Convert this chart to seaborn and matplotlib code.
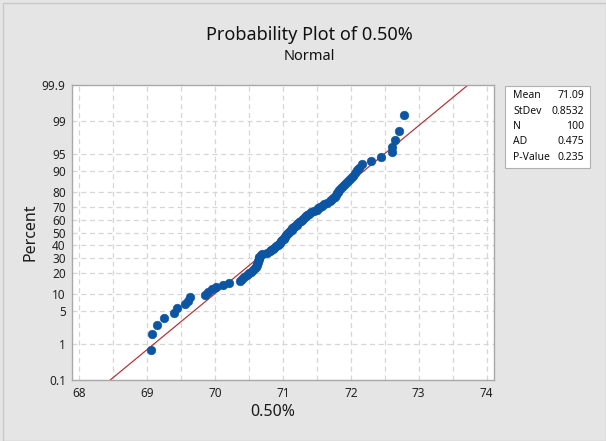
import numpy as np
import pandas as pd
import matplotlib
matplotlib.use("Agg")
import matplotlib.pyplot as plt
import seaborn as sns
from statistics import NormalDist
from matplotlib.patches import Rectangle

# ---- data ----
values = [
    69.07, 69.06, 69.14, 69.24, 69.39, 69.44, 69.55, 69.60, 69.63, 69.85,
    69.90, 69.95, 70.01, 70.12, 70.21, 70.36, 70.39, 70.43, 70.47, 70.50,
    70.53, 70.56, 70.58, 70.60, 70.61, 70.62, 70.63, 70.63, 70.64, 70.65,
    70.65, 70.67, 70.69, 70.77, 70.81, 70.82, 70.85, 70.87, 70.90, 70.92,
    70.94, 70.95, 70.97, 70.99, 71.01, 71.02, 71.03, 71.05, 71.06, 71.07,
    71.09, 71.11, 71.13, 71.14, 71.16, 71.18, 71.20, 71.21, 71.24, 71.26,
    71.28, 71.30, 71.32, 71.34, 71.36, 71.38, 71.42, 71.46, 71.50, 71.52,
    71.55, 71.58, 71.61, 71.65, 71.69, 71.71, 71.74, 71.76, 71.78, 71.80,
    71.81, 71.83, 71.86, 71.88, 71.91, 71.94, 71.97, 72.00, 72.03, 72.06,
    72.09, 72.12, 72.16, 72.30, 72.45, 72.60, 72.61, 72.65, 72.71, 72.78,
]
mean_val = 71.09
stdev_val = 0.8532
n_val = 100
ad_val = 0.475
p_val = 0.235

percent_ticks = [0.1, 1, 5, 10, 20, 30, 40, 50, 60, 70, 80, 90, 95, 99, 99.9]
percent_labels = ["0.1", "1", "5", "10", "20", "30", "40", "50", "60", "70",
                  "80", "90", "95", "99", "99.9"]
x_ticks = [68, 69, 70, 71, 72, 73, 74]

title = "Probability Plot of 0.50%"
subtitle = "Normal"
xlabel = "0.50%"
ylabel = "Percent"

# ---- probability scale ----
nd = NormalDist()
vals = np.sort(np.array(values))
n = len(vals)
ranks = np.arange(1, n + 1)
probs = (ranks - 0.3) / (n + 0.4)
zs = np.array([nd.inv_cdf(p) for p in probs])
df = pd.DataFrame({"x": vals, "z": zs})

zlim = nd.inv_cdf(0.999)

sns.set_theme(style="white")
plt.rcParams["font.family"] = ["Noto Sans", "DejaVu Sans"]

BG = "#E5E5E5"
fig = plt.figure(figsize=(6.06, 4.41), dpi=100, facecolor=BG)
fig.patches.append(Rectangle((3 / 606, 0), 1 - 3 / 606, 1 - 3 / 441,
                             transform=fig.transFigure, fill=False,
                             edgecolor="#C8C8C8", linewidth=1.0, zorder=0))

ax = fig.add_axes([72 / 606, 1 - 380 / 441, (494 - 72) / 606, (380 - 85) / 441])
ax.set_facecolor("white")

# grid
grid_kw = dict(color="#D6D6D6", linestyle=(0, (4, 3)), linewidth=0.9, zorder=0)
for gx in np.arange(68, 74.01, 0.5):
    ax.axvline(gx, **grid_kw)
for pt in percent_ticks[1:-1]:
    ax.axhline(nd.inv_cdf(pt / 100), **grid_kw)

# fit line
zline = np.array([-zlim - 0.2, zlim + 0.2])
ax.plot(mean_val + stdev_val * zline, zline, color="#B03A3A", linewidth=0.9, zorder=2)

# points
sns.scatterplot(data=df, x="x", y="z", ax=ax, color="#0B55A3", s=40,
                edgecolor="#0B55A3", linewidth=0.3, zorder=3, legend=False)

ax.set_xlim(67.89, 74.11)
ax.set_ylim(-zlim, zlim)
ax.set_xticks(x_ticks)
ax.set_xticklabels([str(t) for t in x_ticks])
ax.set_yticks([nd.inv_cdf(p / 100) for p in percent_ticks])
ax.set_yticklabels(percent_labels)
ax.tick_params(axis="both", which="both", direction="out", length=3, width=0.8,
               color="#A0A0A0", labelsize=8.5, labelcolor="#222222", pad=1.5)
ax.tick_params(axis="x", pad=2)
for s in ax.spines.values():
    s.set_color("#A8A8A8")
    s.set_linewidth(1.0)
    s.set_visible(True)

ax.set_xlabel(xlabel, fontsize=11.5, color="#1A1A1A")
ax.xaxis.set_label_coords((273 - 72) / (494 - 72), -(404 - 380) / (380 - 85))
ax.set_ylabel(ylabel, fontsize=11.5, color="#1A1A1A")
ax.yaxis.set_label_coords(-(72 - 38) / (494 - 72), 0.5)

fig.text(309 / 606, 1 - 35 / 441, title, ha="center", va="center",
         fontsize=13, color="#111111")
fig.text(309 / 606, 1 - 57 / 441, subtitle, ha="center", va="center",
         fontsize=10.5, color="#111111")

# stats box
bx0, by0, bx1, by1 = 505, 86, 590, 168
fig.patches.append(Rectangle((bx0 / 606, 1 - by1 / 441), (bx1 - bx0) / 606,
                             (by1 - by0) / 441, transform=fig.transFigure,
                             facecolor="white", edgecolor="#B0B0B0", linewidth=0.8,
                             zorder=1))
rows = [("Mean", f"{mean_val:.2f}"), ("StDev", f"{stdev_val:.4f}"),
        ("N", f"{n_val}"), ("AD", f"{ad_val:.3f}"), ("P-Value", f"{p_val:.3f}")]
for i, (lab, val) in enumerate(rows):
    yy = 1 - (96 + i * 15.3) / 441
    fig.text(513 / 606, yy, lab, ha="left", va="center", fontsize=7.5,
             color="#111111", zorder=2)
    fig.text(584 / 606, yy, val, ha="right", va="center", fontsize=7.5,
             color="#111111", zorder=2)

fig.savefig("out.png", dpi=100, facecolor=BG)
